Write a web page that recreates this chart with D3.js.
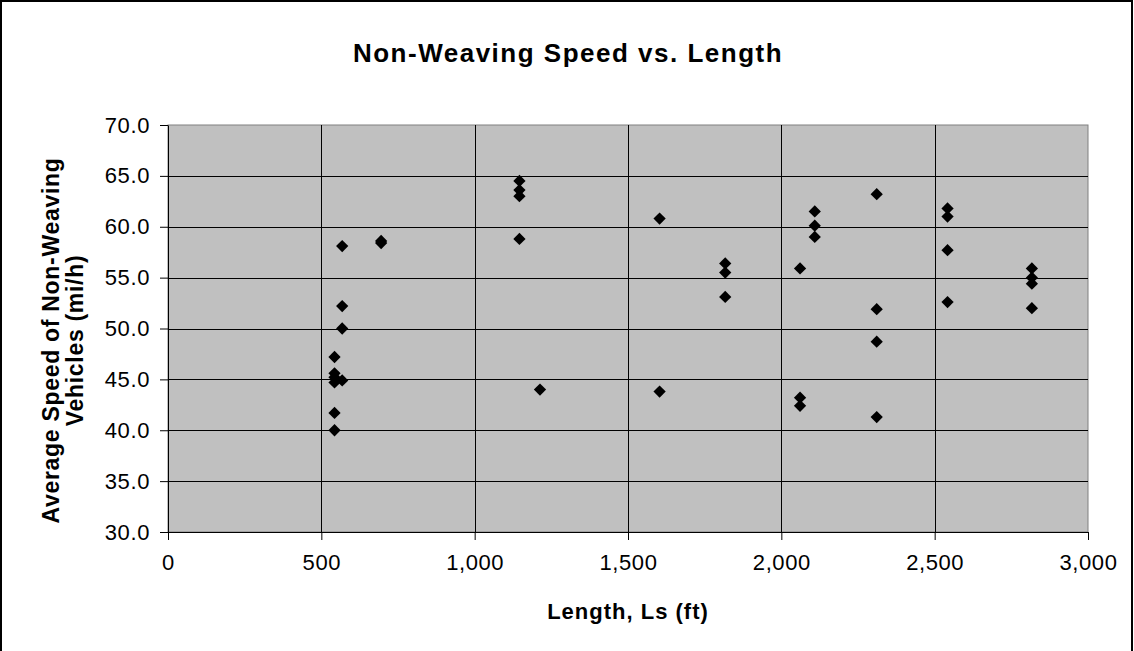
<!DOCTYPE html>
<html><head><meta charset="utf-8">
<script src="https://cdn.jsdelivr.net/npm/d3@7"></script>
<style>
html,body{margin:0;padding:0;background:#fff;}
svg{display:block;font-family:"Liberation Sans",Arial,sans-serif;}
</style></head>
<body>
<svg id="chart" width="1134" height="651"></svg>
<script>
const lengths = [543,543,543,543,543,543, 568,568,568,568, 695,695, 1146,1146,1146,1146, 1213, 1603,1603, 1817,1817,1817, 2061,2061,2061, 2109,2109,2109, 2311,2311,2311,2311, 2542,2542,2542,2542, 2817,2817,2817,2817];
const speeds  = [47.2,45.6,45.2,44.7,41.7,40.0, 58.1,52.2,50.0,44.9, 58.6,58.4, 64.5,63.6,63.0,58.8, 44.0, 60.8,43.8, 56.4,55.5,53.1, 55.9,43.2,42.4, 61.5,60.1,59.0, 63.2,51.9,48.7,41.3, 61.8,61.0,57.7,52.6, 55.9,55.0,54.4,52.0];
const xTicks = [0,500,1000,1500,2000,2500,3000];
const yTicks = [30,35,40,45,50,55,60,65,70];
const titleText = "Non-Weaving Speed vs. Length";
const xTitle = "Length, Ls (ft)";
const yTitleLines = ["Average Speed of Non-Weaving","Vehicles (mi/h)"];

const svg = d3.select("#chart");
const L = 168, R = 1088, T = 125, B = 532;
const x = d3.scaleLinear().domain([0,3000]).range([L,R]);
const y = d3.scaleLinear().domain([30,70]).range([B,T]);

// outer border
svg.append("rect").attr("x",1).attr("y",1).attr("width",1131).attr("height",660)
  .attr("fill","#fff").attr("stroke","#000").attr("stroke-width",2);

// plot background
svg.append("rect").attr("x",L).attr("y",T).attr("width",R-L).attr("height",B-T)
  .attr("fill","#c0c0c0").attr("stroke","#808080").attr("stroke-width",1);

// gridlines
svg.append("g").selectAll("line").data(yTicks.filter(d=>d>30 && d<70)).join("line")
  .attr("x1",L).attr("x2",R).attr("y1",d=>Math.round(y(d))+0.5).attr("y2",d=>Math.round(y(d))+0.5)
  .attr("stroke","#000").attr("stroke-width",1);
svg.append("g").selectAll("line").data(xTicks.filter(d=>d>0 && d<3000)).join("line")
  .attr("y1",T).attr("y2",B).attr("x1",d=>Math.round(x(d))+0.5).attr("x2",d=>Math.round(x(d))+0.5)
  .attr("stroke","#000").attr("stroke-width",1);

// axes
const xAxis = d3.axisBottom(x).tickValues(xTicks).tickSizeInner(8).tickSizeOuter(0)
  .tickPadding(14).tickFormat(d3.format(",.0f"));
const gx = svg.append("g").attr("transform",`translate(0,${B})`).call(xAxis);
const yAxis = d3.axisLeft(y).tickValues(yTicks).tickSizeInner(8).tickSizeOuter(0)
  .tickPadding(10).tickFormat(d3.format(".1f"));
const gy = svg.append("g").attr("transform",`translate(${L},0)`).call(yAxis);
[gx,gy].forEach(g=>{
  g.selectAll("text").attr("font-size",22).attr("fill","#000")
   .attr("font-family","'Liberation Sans',Arial,sans-serif").style("letter-spacing","0.6px");
  g.selectAll("line").attr("stroke","#000");
  g.select(".domain").attr("stroke","#000");
});

// points
svg.append("g").selectAll("path").data(lengths.map((d,i)=>[d,speeds[i]])).join("path")
  .attr("d",d3.symbol().type(d3.symbolDiamond2).size(96))
  .attr("transform",d=>`translate(${x(d[0])},${y(d[1])})`)
  .attr("fill","#000");

// titles
svg.append("text").attr("x",568).attr("y",62).attr("text-anchor","middle")
  .attr("font-size",26).attr("font-weight","bold").style("letter-spacing","1.5px").text(titleText);
svg.append("text").attr("x",628).attr("y",619).attr("text-anchor","middle")
  .attr("font-size",22).attr("font-weight","bold").style("letter-spacing","1px").text(xTitle);
const yt = svg.append("text").attr("transform",`translate(59,${(T+B)/2 + 12}) rotate(-90)`)
  .attr("text-anchor","middle").attr("font-size",23).attr("font-weight","bold").style("letter-spacing","0.7px");
yt.selectAll("tspan").data(yTitleLines).join("tspan")
  .attr("x",0).attr("dy",(d,i)=>i===0?0:"1.05em").text(d=>d);
</script>
</body></html>
